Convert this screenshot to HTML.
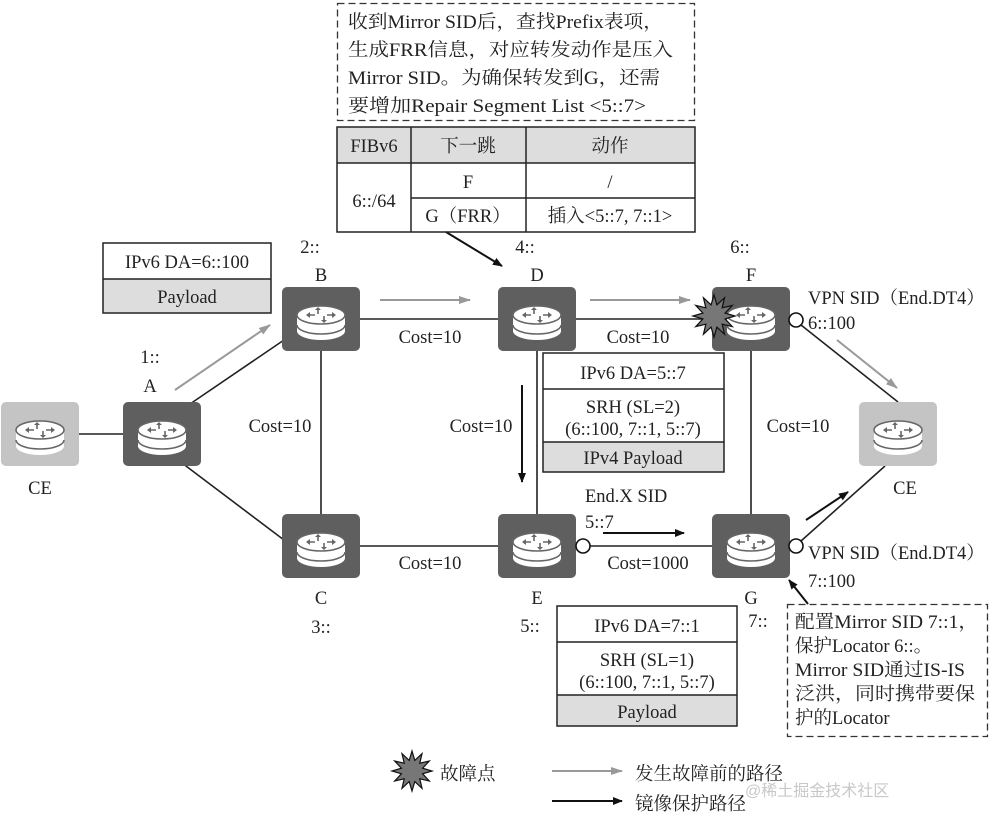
<!DOCTYPE html>
<html><head><meta charset="utf-8"><style>
html,body{margin:0;padding:0;background:#fff;}
svg{display:block;}
text{font-family:"Liberation Serif","Noto Serif CJK SC",serif;font-size:18.5px;fill:#222;}
</style></head><body>
<svg width="990" height="822" viewBox="0 0 990 822" xmlns="http://www.w3.org/2000/svg">
<defs>
<marker id="ab" markerWidth="10" markerHeight="8" refX="9" refY="4" orient="auto" markerUnits="userSpaceOnUse"><path d="M0,0 L10,4 L0,8 Z" fill="#111"/></marker>
<marker id="ag" markerWidth="12" markerHeight="8" refX="11" refY="4" orient="auto" markerUnits="userSpaceOnUse"><path d="M0,0 L12,4 L0,8 Z" fill="#999"/></marker>
<g id="ico">
<path d="M-24,-4 v16 a24,9 0 0 0 48,0 v-16 Z" fill="#fff"/>
<path d="M-24,6 a24,9 0 0 0 48,0" fill="none" stroke="#666" stroke-width="1.5"/>
<ellipse cx="0" cy="-4" rx="24" ry="9" fill="#fff" stroke="#666" stroke-width="1.5"/>
<path d="M-14,-4 h8 M14,-4 h-8 M-3,-11 v6 M3,3 v-6" stroke="#666" stroke-width="1.6"/>
<path d="M-15,-4 l4,-3 v6Z M15,-4 l-4,-3 v6Z M-3,-12 l-3,3 h6Z M3,4 l-3,-3 h6Z" fill="#666"/>
</g>
<g id="rt"><rect x="-39" y="-32" width="78" height="64" rx="5" fill="#5f5f5f"/><use href="#ico"/></g>
<g id="rc"><rect x="-39" y="-32" width="78" height="64" rx="5" fill="#c4c4c4"/><use href="#ico"/></g>
<polygon id="star" points="20,0 10.6,2.8 17.3,10 7.8,7.8 10,17.3 2.8,10.6 0,20 -2.8,10.6 -10,17.3 -7.8,7.8 -17.3,10 -10.6,2.8 -20,0 -10.6,-2.8 -17.3,-10 -7.8,-7.8 -10,-17.3 -2.8,-10.6 0,-20 2.8,-10.6 10,-17.3 7.8,-7.8 17.3,-10 10.6,-2.8" fill="#777" stroke="#111" stroke-width="1.2"/>
</defs>

<!-- links -->
<g stroke="#222" stroke-width="1.6" fill="none">
<line x1="79" y1="434" x2="123" y2="434"/>
<line x1="190" y1="404" x2="284" y2="340"/>
<line x1="178" y1="460" x2="284" y2="540"/>
<line x1="360" y1="319" x2="498" y2="319"/>
<line x1="576" y1="319" x2="713" y2="319"/>
<line x1="321" y1="351" x2="321" y2="514"/>
<line x1="537" y1="351" x2="537" y2="514"/>
<line x1="751" y1="351" x2="751" y2="514"/>
<line x1="360" y1="546" x2="498" y2="546"/>
<line x1="590" y1="546" x2="713" y2="546"/>
<line x1="801" y1="325" x2="898" y2="402"/>
<line x1="801" y1="541" x2="885" y2="466"/>
</g>

<!-- routers -->
<use href="#rc" x="40" y="434"/>
<use href="#rt" x="162" y="434"/>
<use href="#rt" x="321" y="319"/>
<use href="#rt" x="537" y="319"/>
<use href="#rt" x="751" y="319"/>
<use href="#rt" x="321" y="546"/>
<use href="#rt" x="537" y="546"/>
<use href="#rt" x="751" y="546"/>
<use href="#rc" x="898" y="434"/>

<use href="#star" transform="translate(714,316) scale(1.05)"/>

<!-- circles -->
<g fill="#fff" stroke="#111" stroke-width="1.6">
<circle cx="796" cy="320" r="7"/>
<circle cx="796" cy="546" r="7"/>
<circle cx="583" cy="546" r="7"/>
</g>

<!-- gray arrows -->
<g stroke="#999" stroke-width="2" marker-end="url(#ag)">
<line x1="175" y1="390" x2="270" y2="325"/>
<line x1="380" y1="300" x2="470" y2="300"/>
<line x1="590" y1="300" x2="690" y2="300"/>
<line x1="837" y1="340" x2="897" y2="388"/>
<line x1="552" y1="771" x2="622" y2="771"/>
</g>
<!-- black arrows -->
<g stroke="#111" stroke-width="2" marker-end="url(#ab)">
<line x1="522" y1="385" x2="522" y2="482"/>
<line x1="603" y1="533" x2="684" y2="533"/>
<line x1="806" y1="520" x2="848" y2="492"/>
<line x1="446" y1="232" x2="502" y2="266"/>
<line x1="808" y1="604" x2="789" y2="580"/>
<line x1="552" y1="801" x2="622" y2="801"/>
</g>

<!-- top dashed box -->
<rect x="337.5" y="3.5" width="357" height="117" fill="none" stroke="#333" stroke-width="1.3" stroke-dasharray="7,4"/>
<g style="font-size:20px">
<text x="348" y="28" textLength="315" lengthAdjust="spacingAndGlyphs">收到Mirror SID后，查找Prefix表项，</text>
<text x="348" y="56" textLength="325" lengthAdjust="spacingAndGlyphs">生成FRR信息，对应转发动作是压入</text>
<text x="348" y="84" textLength="312" lengthAdjust="spacingAndGlyphs">Mirror SID。为确保转发到G，还需</text>
<text x="348" y="112" textLength="298" lengthAdjust="spacingAndGlyphs">要增加Repair Segment List &lt;5::7&gt;</text>
</g>

<!-- table -->
<rect x="337" y="127" width="358" height="36" fill="#ddd"/>
<g stroke="#222" stroke-width="1.5" fill="none">
<rect x="337" y="127" width="358" height="105"/>
<line x1="337" y1="163" x2="695" y2="163"/>
<line x1="411" y1="198" x2="695" y2="198"/>
<line x1="411" y1="127" x2="411" y2="232"/>
<line x1="526" y1="127" x2="526" y2="232"/>
</g>
<g text-anchor="middle">
<text x="374" y="152">FIBv6</text><text x="468" y="152">下一跳</text><text x="610" y="152">动作</text>
<text x="374" y="207">6::/64</text>
<text x="468" y="188">F</text><text x="610" y="188">/</text>
<text x="468" y="222">G（FRR）</text><text x="610" y="222">插入&lt;5::7, 7::1&gt;</text>
</g>

<!-- left box -->
<rect x="103" y="279" width="168" height="34" fill="#ddd"/>
<g stroke="#222" stroke-width="1.5" fill="none"><rect x="103" y="243" width="168" height="70"/><line x1="103" y1="279" x2="271" y2="279"/></g>
<text x="187" y="268" text-anchor="middle">IPv6 DA=6::100</text>
<text x="187" y="303" text-anchor="middle">Payload</text>

<!-- D box -->
<rect x="543" y="442" width="181" height="30" fill="#ddd"/>
<g stroke="#222" stroke-width="1.5" fill="none"><rect x="543" y="353" width="181" height="119"/><line x1="543" y1="389" x2="724" y2="389"/><line x1="543" y1="442" x2="724" y2="442"/></g>
<g text-anchor="middle">
<text x="633" y="379">IPv6 DA=5::7</text>
<text x="633" y="413">SRH (SL=2)</text>
<text x="633" y="435">(6::100, 7::1, 5::7)</text>
<text x="633" y="464">IPv4 Payload</text>
</g>

<!-- E box -->
<rect x="557" y="695" width="180" height="31" fill="#ddd"/>
<g stroke="#222" stroke-width="1.5" fill="none"><rect x="557" y="606" width="180" height="120"/><line x1="557" y1="642" x2="737" y2="642"/><line x1="557" y1="695" x2="737" y2="695"/></g>
<g text-anchor="middle">
<text x="647" y="632">IPv6 DA=7::1</text>
<text x="647" y="666">SRH (SL=1)</text>
<text x="647" y="688">(6::100, 7::1, 5::7)</text>
<text x="647" y="718">Payload</text>
</g>

<!-- right dashed box -->
<rect x="787.5" y="604.5" width="200" height="132" fill="none" stroke="#333" stroke-width="1.3" stroke-dasharray="7,4"/>
<text x="795" y="628" textLength="183" lengthAdjust="spacingAndGlyphs">配置Mirror SID 7::1，</text>
<text x="795" y="652">保护Locator 6::。</text>
<text x="795" y="676" textLength="170" lengthAdjust="spacingAndGlyphs">Mirror SID通过IS-IS</text>
<text x="795" y="700" textLength="180" lengthAdjust="spacingAndGlyphs">泛洪，同时携带要保</text>
<text x="795" y="724">护的Locator</text>

<!-- node labels -->
<g text-anchor="middle">
<text x="310" y="253">2::</text><text x="321" y="281">B</text>
<text x="525" y="253">4::</text><text x="537" y="281">D</text>
<text x="740" y="253">6::</text><text x="751" y="281">F</text>
<text x="150" y="363">1::</text><text x="150" y="392">A</text>
<text x="321" y="604">C</text><text x="321" y="633">3::</text>
<text x="537" y="604">E</text><text x="530" y="632">5::</text>
<text x="751" y="604">G</text><text x="758" y="627">7::</text>
<text x="40" y="494">CE</text><text x="905" y="494">CE</text>
<text x="430" y="343">Cost=10</text>
<text x="638" y="343">Cost=10</text>
<text x="280" y="432">Cost=10</text>
<text x="481" y="432">Cost=10</text>
<text x="798" y="432">Cost=10</text>
<text x="430" y="569">Cost=10</text>
<text x="648" y="569">Cost=1000</text>
</g>
<text x="585" y="502">End.X SID</text>
<text x="585" y="528">5::7</text>
<text x="808" y="304">VPN SID（End.DT4）</text>
<text x="808" y="329">6::100</text>
<text x="808" y="559">VPN SID（End.DT4）</text>
<text x="808" y="587">7::100</text>

<!-- legend -->
<use href="#star" transform="translate(412,771)"/>
<text x="440" y="780">故障点</text>
<text x="635" y="780">发生故障前的路径</text>
<text x="635" y="810">镜像保护路径</text>
<text x="745" y="796" style="fill:#c8c8c8;font-family:'Liberation Sans','Noto Sans CJK SC',sans-serif;font-size:16px">@稀土掘金技术社区</text>
</svg>
</body></html>
